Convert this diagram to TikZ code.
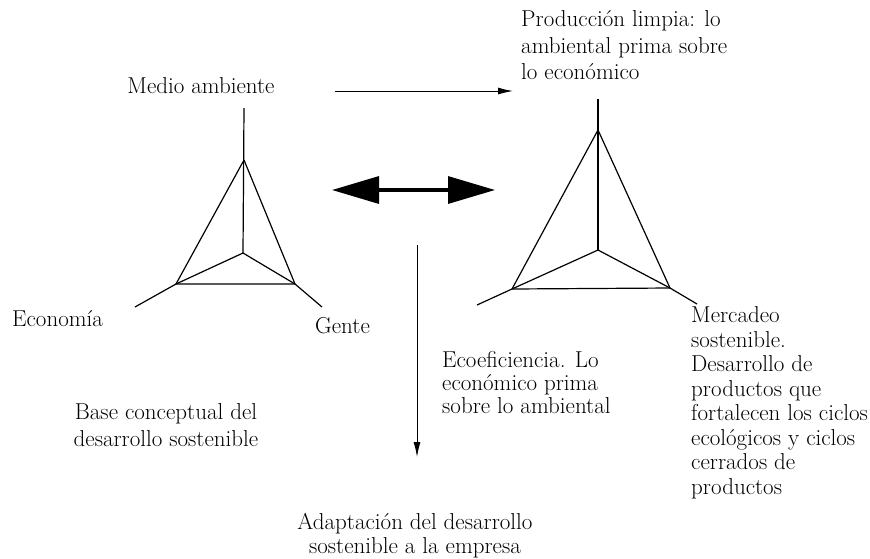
\documentclass[tikz,border=0pt]{standalone}
\usepackage{tikz}
\usetikzlibrary{arrows.meta}

\begin{document}
\begin{tikzpicture}[x=1pt,y=-1pt,line join=round,
	txt/.style={inner sep=0pt,font=\fontsize{23}{24.5}\selectfont},
	leg/.style={line width=1.2pt},
	thin arrow/.style={-{Latex[length=15pt,width=7pt]},line width=1pt},
	big arrow/.style={{Triangle[length=47pt,width=27pt]}-{Triangle[length=47pt,width=27pt]},line width=3.3pt}]

	\useasboundingbox (0,0) rectangle (870,558);

	% left star
	\coordinate (T1) at (244,108);
	\coordinate (A1) at (244,160);
	\coordinate (C1) at (243,253);
	\coordinate (L1) at (176,284);
	\coordinate (R1) at (295,284);
	\coordinate (EL1) at (135,307);
	\coordinate (ER1) at (322,307);
	\draw[leg] (T1) -- (C1);
	\draw[leg] (L1) -- (A1) -- (R1) -- (L1);
	\draw[leg] (EL1) -- (L1) -- (C1) -- (R1) -- (ER1);

	% right star
	\coordinate (T2) at (598,99);
	\coordinate (A2) at (598,130);
	\coordinate (C2) at (598,250);
	\coordinate (L2) at (512,289);
	\coordinate (R2) at (670,288);
	\coordinate (EL2) at (477,305);
	\coordinate (ER2) at (697,304);
	\draw[leg] (T2) -- (C2);
	\draw[leg] (L2) -- (A2) -- (R2) -- (L2);
	\draw[leg] (EL2) -- (L2) -- (C2) -- (R2) -- (ER2);

	% arrows
	\coordinate (top a) at (335,91);
	\coordinate (top b) at (513,91);
	\coordinate (mid a) at (332,190);
	\coordinate (mid b) at (495,190);
	\coordinate (down a) at (417,245);
	\coordinate (down b) at (417,457);
	\path[thin arrow] (top a) edge (top b);
	\path[big arrow] (mid a) edge (mid b);
	\path[thin arrow] (down a) edge (down b);

	% labels
	\node[txt,anchor=base] (medio) at (201,93) {Medio ambiente};
	\node[txt,anchor=north west,align=left,font=\fontsize{23}{26.5}\selectfont] (limpia) at (521,10.5)
		{Producción limpia: lo\\ambiental prima sobre\\lo económico};
	\node[txt,anchor=base west] (eco) at (12,326) {Economía};
	\node[txt,anchor=base west] (gente) at (315,333) {Gente};
	\node[txt,anchor=north west,align=left,font=\fontsize{23}{23}\selectfont] (ecoef) at (442,351.5)
		{Ecoeficiencia. Lo\\económico prima\\sobre lo ambiental};
	\node[txt,anchor=north,align=center,font=\fontsize{23}{27}\selectfont] (base) at (166,403.5)
		{Base conceptual del\\desarrollo sostenible};
	\node[txt,anchor=north,align=center,font=\fontsize{23}{23.5}\selectfont] (adapt) at (415,513.5)
		{Adaptación del desarrollo\\sostenible a la empresa};
	\node[txt,anchor=north west,align=left] (merc) at (691,306.5)
		{Mercadeo\\sostenible.\\Desarrollo de\\productos que\\fortalecen los ciclos\\ecológicos y ciclos\\cerrados de\\productos};

\end{tikzpicture}
\end{document}
